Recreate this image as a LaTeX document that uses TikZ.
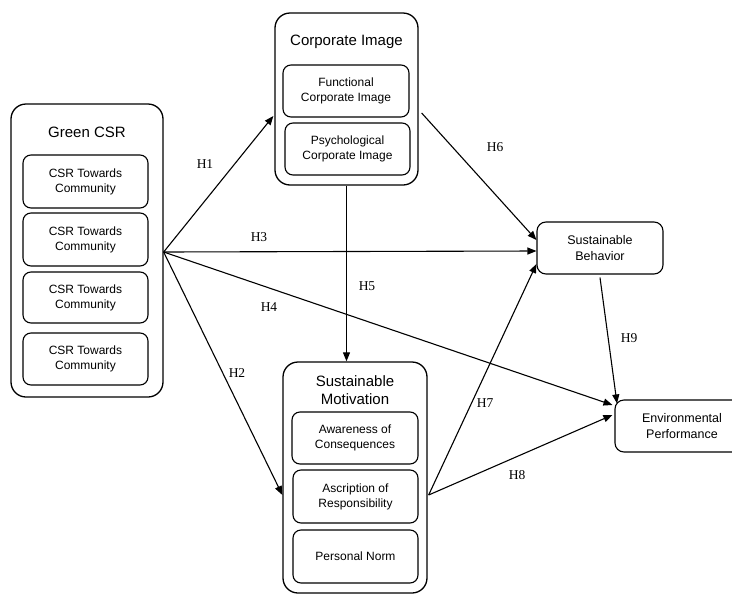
\documentclass[tikz,border=0pt]{standalone}
\usepackage{fontspec}
\setmainfont{Liberation Serif}
\setsansfont{Liberation Sans}
\usetikzlibrary{arrows.meta}
\begin{document}
\begin{tikzpicture}[x=1pt,y=-1pt,
  outer/.style={draw, line width=1.3pt, rounded corners=15pt, inner sep=0pt},
  inner/.style={draw, line width=1.1pt, rounded corners=8pt, align=center, inner sep=0pt,
     font=\sffamily\fontsize{12}{15}\selectfont},
  single/.style={draw, line width=1.1pt, rounded corners=9pt, align=center, inner sep=0pt,
     font=\sffamily\fontsize{12.5}{16}\selectfont},
  ttl/.style={font=\sffamily\fontsize{15}{18.5}\selectfont, align=center, inner sep=0pt},
  hl/.style={font=\fontsize{13.5}{15}\selectfont, inner sep=0pt},
  arr/.style={-{Triangle[length=9pt,width=7pt]}, line width=1.1pt}]
\useasboundingbox (0,0) rectangle (732,595);
\clip (0,0) rectangle (732,595);

% Green CSR
\node[outer, minimum width=152pt, minimum height=293pt] (gcsr) at (87,250.5) {};
\node[ttl] (gt) at (87,132) {Green CSR};
\node[inner, minimum width=125pt, minimum height=53pt] (c1) at (85.5,181.5) {CSR Towards\\Community};
\node[inner, minimum width=125pt, minimum height=53pt] (c2) at (85.5,239.5) {CSR Towards\\Community};
\node[inner, minimum width=125pt, minimum height=51pt] (c3) at (85.5,297.5) {CSR Towards\\Community};
\node[inner, minimum width=125pt, minimum height=52pt] (c4) at (85.5,359) {CSR Towards\\Community};

% Corporate Image
\node[outer, minimum width=143pt, minimum height=172pt] (ci) at (346.5,99) {};
\node[ttl] (ct) at (346.5,42) {Corporate Image};
\node[inner, minimum width=126pt, minimum height=52pt] (fci) at (346,91) {Functional\\Corporate Image};
\node[inner, minimum width=125pt, minimum height=52pt] (pci) at (347.5,149) {Psychological\\Corporate Image};

% Sustainable Motivation
\node[outer, minimum width=144pt, minimum height=231pt] (sm) at (355,477.5) {};
\node[ttl] (st) at (355,390) {Sustainable\\Motivation};
\node[inner, minimum width=126pt, minimum height=52pt] (aoc) at (355,438) {Awareness of\\Consequences};
\node[inner, minimum width=125pt, minimum height=53pt] (aor) at (355.5,496.5) {Ascription of\\Responsibility};
\node[inner, minimum width=125pt, minimum height=53pt] (pn) at (355.5,556.5) {Personal Norm};

% Sustainable Behavior / Environmental Performance
\node[single, minimum width=126pt, minimum height=52pt] (sb) at (600,248) {Sustainable\\Behavior};
\node[single, minimum width=134pt, minimum height=52pt] (ep) at (682,426) {Environmental\\Performance};

% connectors
\coordinate (o) at ([yshift=-1.5pt]gcsr.east);
\draw[arr] (o) -- ([xshift=-1pt,yshift=-17pt]ci.west);
\draw[arr] (o) -- ([yshift=-17.5pt]sm.west);
\draw[arr] (o) -- ([yshift=-3pt]sb.west);
\draw[arr] (o) -- ([xshift=-2pt,yshift=21pt]ep.west);
\draw[arr] (ci.south) -- (ci.south |- sm.north);
\draw[arr] ([xshift=3pt,yshift=-14pt]ci.east) -- ([yshift=8pt]sb.west);
\coordinate (m) at ([xshift=1pt,yshift=-17.5pt]sm.east);
\draw[arr] (m) -- ([yshift=-16pt]sb.west);
\draw[arr] (m) -- ([xshift=-2pt,yshift=11pt]ep.west);
\draw[arr] ([yshift=-3pt]sb.south) -- ([xshift=-65pt,yshift=-4pt]ep.north);

% labels
\node[hl] (h1) at (205,164) {H1};
\node[hl] (h2) at (237,373) {H2};
\node[hl] (h3) at (259,237) {H3};
\node[hl] (h4) at (269,307) {H4};
\node[hl] (h5) at (367,286) {H5};
\node[hl] (h6) at (495,147) {H6};
\node[hl] (h7) at (485,403) {H7};
\node[hl] (h8) at (517,475) {H8};
\node[hl] (h9) at (629,338) {H9};
\end{tikzpicture}
\end{document}
